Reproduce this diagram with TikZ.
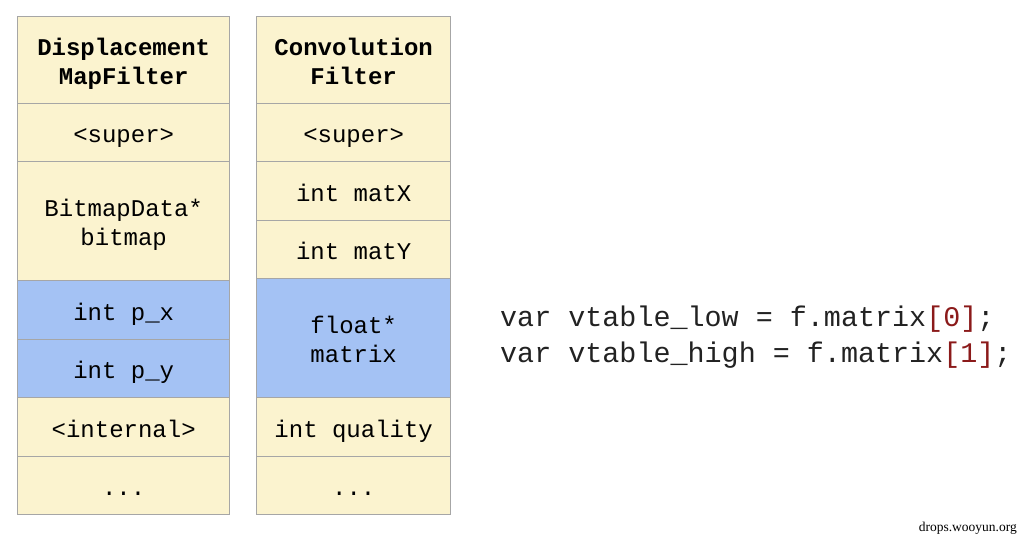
\documentclass[tikz,border=0pt]{standalone}
\usepackage{fontspec}
\setmainfont{Liberation Serif}
\setmonofont{Liberation Mono}
\definecolor{cream}{HTML}{FBF3CF}
\definecolor{blu}{HTML}{A4C2F4}
\definecolor{edge}{HTML}{A6A6A6}
\definecolor{brk}{HTML}{8B1A1A}
\definecolor{codec}{HTML}{222222}
\tikzset{
  cell/.style={draw=edge, line width=1.4pt, anchor=north west, inner sep=0pt, align=center,
    font=\ttfamily\fontsize{24}{29}\selectfont, text=black, text height=22pt, text depth=2pt},
  two/.style={text height=51pt, text depth=2pt},
  ycell/.style={cell, fill=cream},
  bcell/.style={cell, fill=blu},
}
\begin{document}
\begin{tikzpicture}[x=1pt,y=-1pt]
\useasboundingbox (0,0) rectangle (1022,539);
% left table
\node[ycell, two, minimum width=212pt, minimum height=87pt] (l0) at (17,16) {\bfseries Displacement\\\bfseries MapFilter};
\node[ycell, minimum width=212pt, minimum height=58pt] (l1) at (17,103) {<super>};
\node[ycell, two, minimum width=212pt, minimum height=119pt] (l2) at (17,161) {BitmapData*\\bitmap};
\node[bcell, minimum width=212pt, minimum height=59pt] (l3) at (17,280) {int p\_x};
\node[bcell, minimum width=212pt, minimum height=58pt] (l4) at (17,339) {int p\_y};
\node[ycell, minimum width=212pt, minimum height=59pt] (l5) at (17,397) {<internal>};
\node[ycell, minimum width=212pt, minimum height=58pt] (l6) at (17,456) {...};
% right table
\node[ycell, two, minimum width=194pt, minimum height=87pt] (r0) at (256,16) {\bfseries Convolution\\\bfseries Filter};
\node[ycell, minimum width=194pt, minimum height=58pt] (r1) at (256,103) {<super>};
\node[ycell, minimum width=194pt, minimum height=59pt] (r2) at (256,161) {int matX};
\node[ycell, minimum width=194pt, minimum height=58pt] (r3) at (256,220) {int matY};
\node[bcell, two, minimum width=194pt, minimum height=119pt] (r4) at (256,278) {float*\\matrix};
\node[ycell, minimum width=194pt, minimum height=59pt] (r5) at (256,397) {int quality};
\node[ycell, minimum width=194pt, minimum height=58pt] (r6) at (256,456) {...};
% code
\node[anchor=base west, inner sep=0pt, align=left, text=codec, font=\ttfamily\fontsize{28.4}{36}\selectfont] (code) at (500,362)
  {var vtable\_low = f.matrix\textcolor{brk}{[0]};\\var vtable\_high = f.matrix\textcolor{brk}{[1]};};
% watermark
\node[anchor=base east, inner sep=0pt, font=\fontsize{13.5}{14}\selectfont] (wm) at (1017,531) {drops.wooyun.org};
\end{tikzpicture}
\end{document}
